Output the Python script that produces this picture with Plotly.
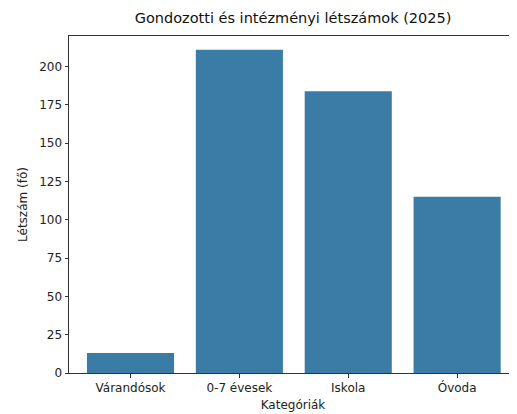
import plotly.graph_objects as go

categories = ["Várandósok", "0-7 évesek", "Iskola", "Óvoda"]
letszam = [13, 211, 184, 115]
y_ticks = [0, 25, 50, 75, 100, 125, 150, 175, 200]

bar_color = "#3a7ca5"
font_family = "DejaVu Sans"

fig = go.Figure()
fig.add_trace(go.Bar(
    x=categories,
    y=letszam,
    marker=dict(color=bar_color, line=dict(width=0)),
    width=0.8,
))

fig.update_xaxes(
    range=[-0.565, 3.55],
    showline=True, linecolor="#333333", linewidth=1, mirror=True,
    ticks="outside", ticklen=3.5, tickcolor="#333333",
    showgrid=False, zeroline=False,
    tickfont=dict(size=12, color="#222222"),
    title=dict(text="Kategóriák", font=dict(size=12, color="#222222"), standoff=6),
)
fig.update_yaxes(
    range=[0, 220],
    tickvals=y_ticks,
    showline=True, linecolor="#333333", linewidth=1,
    ticks="outside", ticklen=3.5, tickcolor="#333333",
    showgrid=False, zeroline=False,
    tickfont=dict(size=12, color="#222222"),
    title=dict(text="Létszám (fő)", font=dict(size=12, color="#222222"), standoff=8),
)

# the page puts the figure 8px in from the top-left, so the figure is sized to fit
fig.update_layout(
    width=509,
    height=406,
    margin=dict(l=61, r=0, t=28, b=41),
    plot_bgcolor="white",
    paper_bgcolor="white",
    font=dict(family=font_family, color="#222222"),
    title=dict(
        text="Gondozotti és intézményi létszámok (2025)",
        font=dict(size=14.5, color="#111111"),
        x=0.56, xanchor="center", y=0.975, yanchor="middle",
    ),
    showlegend=False,
    bargap=0.2,
)

fig.write_html("out.html")
